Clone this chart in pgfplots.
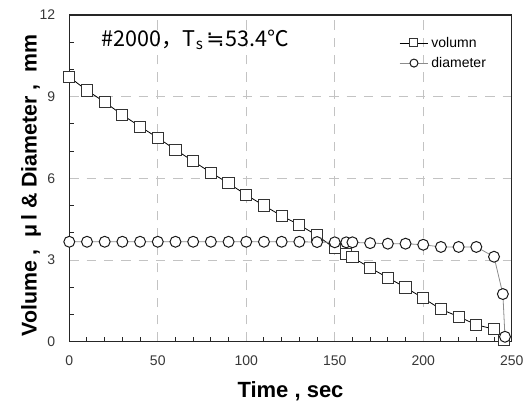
\documentclass[border=0pt]{standalone}
\usepackage{pgfplots}
\pgfplotsset{compat=1.18}
\usepackage{fontspec}
\setmainfont{Liberation Sans}
\newfontfamily\cjk{Noto Sans CJK KR}
\newfontfamily\dejavu{DejaVu Sans}

\definecolor{gridgray}{RGB}{195,195,195}
\definecolor{ticktext}{RGB}{55,55,55}
\definecolor{diamline}{RGB}{140,140,140}

\begin{document}
\begin{tikzpicture}
\begin{axis}[
scale only axis,
width=331.8pt, height=245pt,
xmin=0, xmax=250, ymin=0, ymax=12,
xtick={0,50,...,250}, ytick={0,3,...,12},
minor x tick num=4, minor y tick num=2,
tick pos=left, tick align=inside,
major tick length=0pt, minor tick length=3.5pt,
grid=major,
major grid style={gridgray, dash pattern=on 7pt off 6pt, line width=0.75pt},
axis line style={line width=1pt, black!85},
every tick/.style={black!85, line width=0.75pt},
ticklabel style={font=\fontsize{10.5}{12}\selectfont, text=ticktext},
/pgf/number format/assume math mode=true,
xticklabel style={yshift=-7pt},
yticklabel style={xshift=-7pt},
xlabel={Time\ ,\ sec},
ylabel={Volume\ ,\ \ μ\,l\ \&\ Diameter\ ,\ \ mm},
xlabel style={font=\bfseries\fontsize{16.5}{18}\selectfont, at={(axis description cs:0.5,-0.153)}, anchor=center},
ylabel style={font=\bfseries\fontsize{16}{18}\selectfont, at={(axis description cs:-0.0866,0.478)}, anchor=center},
clip=false,
legend cell align=left,
legend style={draw=none, fill=none, at={(rel axis cs:0.745,0.942)}, anchor=north west,
  font=\fontsize{10.5}{12}\selectfont, row sep=2pt, inner sep=0pt},
legend image code/.code={\draw[mark repeat=2, mark phase=2, #1, mark size=3pt] plot coordinates {(0cm,0cm) (0.38cm,0cm) (0.76cm,0cm)};},
]
\addplot [black, line width=0.6pt, mark=square*, mark size=4.2pt, mark options={draw=black!80, fill=white, line width=0.75pt, solid}]
table {%
0 9.72
10 9.23
20 8.80
30 8.33
40 7.90
50 7.49
60 7.05
70 6.63
80 6.21
90 5.82
100 5.39
110 5.00
120 4.62
130 4.29
140 3.90
150 3.43
156.5 3.21
160 3.10
170 2.71
180 2.35
190 1.99
200 1.60
210 1.19
220 0.92
230 0.62
240 0.46
245.5 0.06
};
\addlegendentry{volumn}
\addplot [diamline, line width=0.6pt, mark=*, mark size=4.1pt, mark options={draw=black!90, fill=white, line width=0.75pt, solid}]
table {%
0 3.67
10 3.67
20 3.67
30 3.67
40 3.67
50 3.67
60 3.67
70 3.67
80 3.67
90 3.67
100 3.67
110 3.67
120 3.67
130 3.67
140 3.66
150 3.65
156.5 3.65
160 3.65
170 3.62
180 3.60
190 3.60
200 3.56
210 3.48
220 3.48
230 3.48
240 3.12
245 1.75
246.2 0.18
};
\addlegendentry{diameter}
\node[anchor=west, font=\cjk\fontsize{16.2}{18}\selectfont] at (axis cs:15.5,11.08) {\#2000，T\textsubscript{s}\hspace{2pt}{\dejavu ≒}\hspace{1pt}53.4℃};
\coordinate (bbsw) at (rel axis cs:-0.1566,-0.1968);
\coordinate (bbne) at (rel axis cs:1.0323,1.0459);
\end{axis}
\pgfresetboundingbox
\path (bbsw) rectangle (bbne);
\end{tikzpicture}
\end{document}
